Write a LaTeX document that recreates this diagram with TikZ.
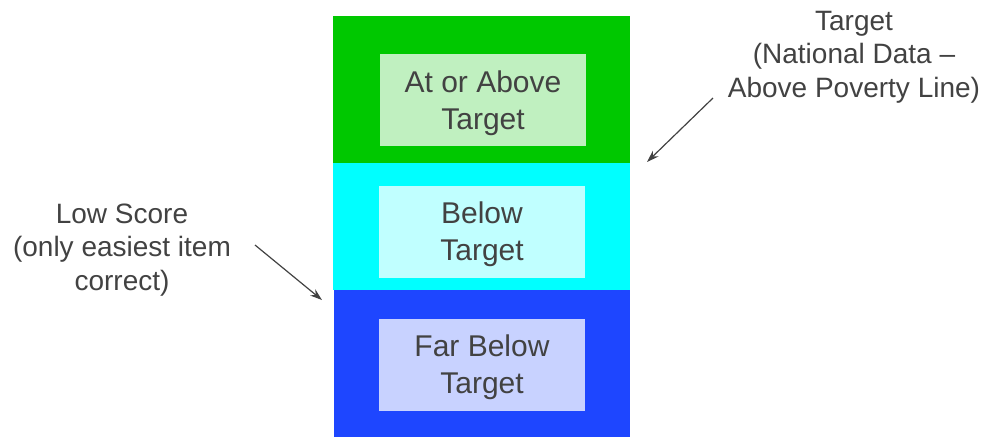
\documentclass[tikz,border=0pt]{standalone}
\usepackage{fontspec}
\setmainfont{Liberation Sans}
\usepackage{xcolor}
\usepackage{tikz}
\usetikzlibrary{positioning,calc,arrows.meta}

\definecolor{bandgreen}{HTML}{00C800}
\definecolor{boxgreen}{HTML}{C0F0C0}
\definecolor{bandcyan}{HTML}{00FFFF}
\definecolor{boxcyan}{HTML}{C0FFFF}
\definecolor{bandblue}{HTML}{1E46FF}
\definecolor{boxblue}{HTML}{C8D2FF}
\definecolor{txtgrey}{HTML}{424242}

\tikzset{
  levelbox/.style={minimum width=155pt, minimum height=69pt, inner sep=0pt,
    align=center, text=txtgrey, text depth=0pt, font=\fontsize{22.5}{27.75}\selectfont},
  note/.style={align=center, text=txtgrey, font=\fontsize{21}{25}\selectfont},
  pointer/.style={-{Stealth[length=9pt,width=6pt]}, draw=txtgrey, line width=0.9pt}
}

\begin{document}
\begin{tikzpicture}[x=0.75pt,y=-0.75pt]
    \useasboundingbox (0,0) rectangle (983,437);

    % Bands
    \fill[bandgreen] (333,16) rectangle (630,163);
    \fill[bandcyan] (333,163) rectangle (630,290);
    \fill[bandblue] (334,290) rectangle (630,437);

    % Levels
    \node[levelbox, fill=boxgreen] (above) at (483,100) {At or Above\\Target};
    \node[levelbox, fill=boxcyan] (below) at (482,231.5) {Below\\Target};
    \node[levelbox, fill=boxblue] (farbelow) at (482,364.5) {Far Below\\Target};

    % Notes
    \node[note] (target) at (854,57) {Target\\(National Data --\\Above Poverty Line)};
    \node[note] (lowscore) at (122,250) {Low Score\\(only easiest item\\correct)};

    % Pointers
    \coordinate (targetfrom) at (713,98);
    \coordinate (targetto) at (647,162);
    \coordinate (lowfrom) at (255,245);
    \coordinate (lowto) at (322,300);
    \draw[pointer] (targetfrom) -- (targetto);
    \draw[pointer] (lowfrom) -- (lowto);
\end{tikzpicture}
\end{document}
